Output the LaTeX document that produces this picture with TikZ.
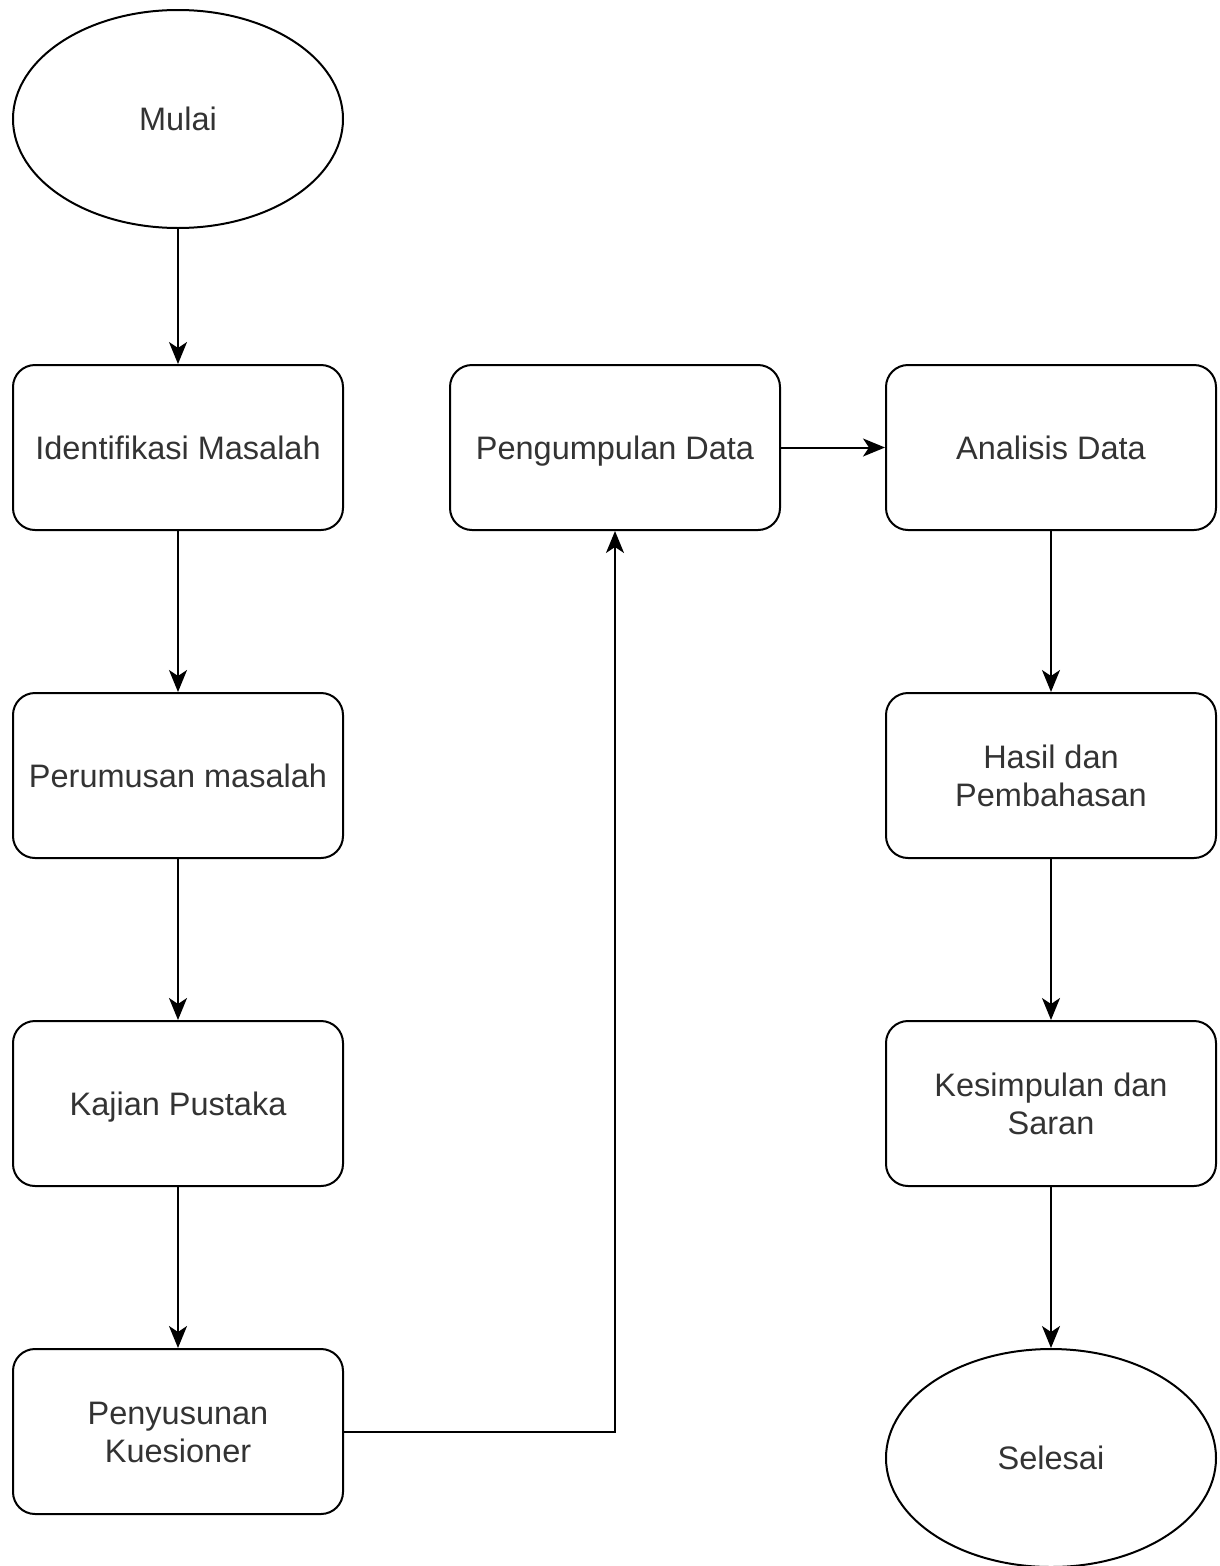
\documentclass[tikz,border=0pt]{standalone}
\usepackage{fontspec}
\setmainfont{Liberation Sans}
\usetikzlibrary{shapes.geometric,arrows.meta}
\definecolor{txt}{RGB}{51,51,51}
\newcommand\mystrut{\rule[-7pt]{0pt}{37pt}}
\begin{document}
\begin{tikzpicture}[x=1pt,y=-1pt,
  every node/.style={font=\fontsize{32.5}{38}\selectfont, text=txt, align=center},
  stepbox/.style={draw=black, line width=2pt, rounded corners=22pt, minimum width=330pt, minimum height=165pt, inner sep=0pt},
  term/.style={draw=black, line width=2pt, ellipse, minimum width=330pt, minimum height=218pt, inner sep=0pt},
  conn/.style={draw=black, line width=2pt, -{Stealth[length=22pt,width=18pt,inset=6pt]}}
]
\useasboundingbox (0,0) rectangle (1219,1566);
\node[term] (mulai) at (178,119) {\mystrut Mulai};
\node[stepbox] (ident) at (178,447.5) {\mystrut Identifikasi Masalah};
\node[stepbox] (rumus) at (178,775.5) {\mystrut Perumusan masalah};
\node[stepbox] (kajian) at (178,1103.5) {\mystrut Kajian Pustaka};
\node[stepbox] (susun) at (178,1431.5) {\mystrut Penyusunan\\\mystrut Kuesioner};
\node[stepbox] (kumpul) at (615,447.5) {\mystrut Pengumpulan Data};
\node[stepbox] (analisis) at (1051,447.5) {\mystrut Analisis Data};
\node[stepbox] (hasil) at (1051,775.5) {\mystrut Hasil dan\\\mystrut Pembahasan};
\node[stepbox] (simpul) at (1051,1103.5) {\mystrut Kesimpulan dan\\\mystrut Saran};
\node[term] (selesai) at (1051,1458) {\mystrut Selesai};
\draw[conn] (mulai) -- (ident);
\draw[conn] (ident) -- (rumus);
\draw[conn] (rumus) -- (kajian);
\draw[conn] (kajian) -- (susun);
\draw[conn] (susun.east) -| (kumpul.south);
\draw[conn] (kumpul) -- (analisis);
\draw[conn] (analisis) -- (hasil);
\draw[conn] (hasil) -- (simpul);
\draw[conn] (simpul) -- (selesai);
\end{tikzpicture}
\end{document}
